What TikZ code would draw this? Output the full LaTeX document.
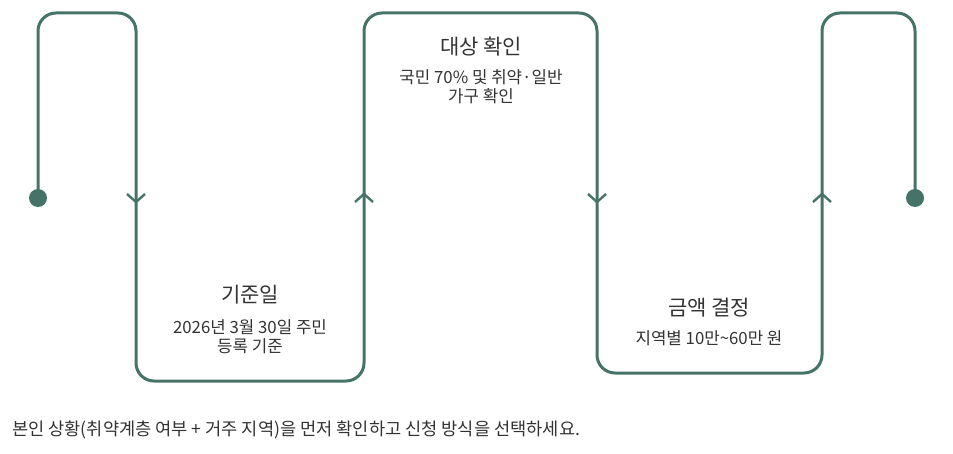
\documentclass[tikz,border=0pt]{standalone}
\usepackage{fontspec}
\setmainfont{Noto Sans CJK KR}
\usetikzlibrary{arrows.meta}
\definecolor{pathgreen}{RGB}{70,115,104}
\definecolor{txtgray}{RGB}{51,51,51}
\tikzset{
  flow/.style={draw=pathgreen,line width=3pt,rounded corners=18pt},
  chev/.style={draw=pathgreen,line width=2.4pt},
  enddot/.style={circle,fill=pathgreen,minimum size=18pt,inner sep=0pt},
  steptitle/.style={text=txtgray,font=\fontsize{21}{24}\selectfont,align=center,inner sep=0pt},
  stepdesc/.style={text=txtgray,font=\fontsize{16.8}{19}\selectfont,align=center,inner sep=0pt},
}
\begin{document}
\begin{tikzpicture}[x=1pt,y=-1pt]
\useasboundingbox (0,0) rectangle (953,454);
% corners of the winding line
\node[enddot] (start) at (38,198) {};
\coordinate (c1) at (38,13);
\coordinate (c2) at (136,13);
\coordinate (c3) at (136,381);
\coordinate (c4) at (364,381);
\coordinate (c5) at (364,13);
\coordinate (c6) at (597,13);
\coordinate (c7) at (597,373);
\coordinate (c8) at (822,373);
\coordinate (c9) at (822,13);
\coordinate (c10) at (915,13);
\node[enddot] (stop) at (915,198) {};
\draw[flow] (start.center) -- (c1) -- (c2) -- (c3) -- (c4) -- (c5) -- (c6) -- (c7) -- (c8) -- (c9) -- (c10) -- (stop.center);
% direction marks
\foreach \x/\d in {136/1,364/-1,597/1,822/-1}
  \draw[chev] (\x-9,198-4*\d) -- (\x,198+4*\d) -- (\x+9,198-4*\d);

\node[steptitle] (t1) at (250,295) {기준일};
\node[stepdesc] (d1) at (250,336.5) {2026년 3월 30일 주민\\등록 기준};
\node[steptitle] (t2) at (481,47) {대상 확인};
\node[stepdesc] (d2) at (481,86.5) {국민 70\% 및 취약·일반\\가구 확인};
\node[steptitle] (t3) at (709,308) {금액 결정};
\node[stepdesc] (d3) at (709,338) {지역별 10만\textasciitilde60만 원};

\node[stepdesc,font=\fontsize{17.6}{19}\selectfont,anchor=west] (note) at (12,430) {본인 상황(취약계층 여부 + 거주 지역)을 먼저 확인하고 신청 방식을 선택하세요.};
\end{tikzpicture}
\end{document}
